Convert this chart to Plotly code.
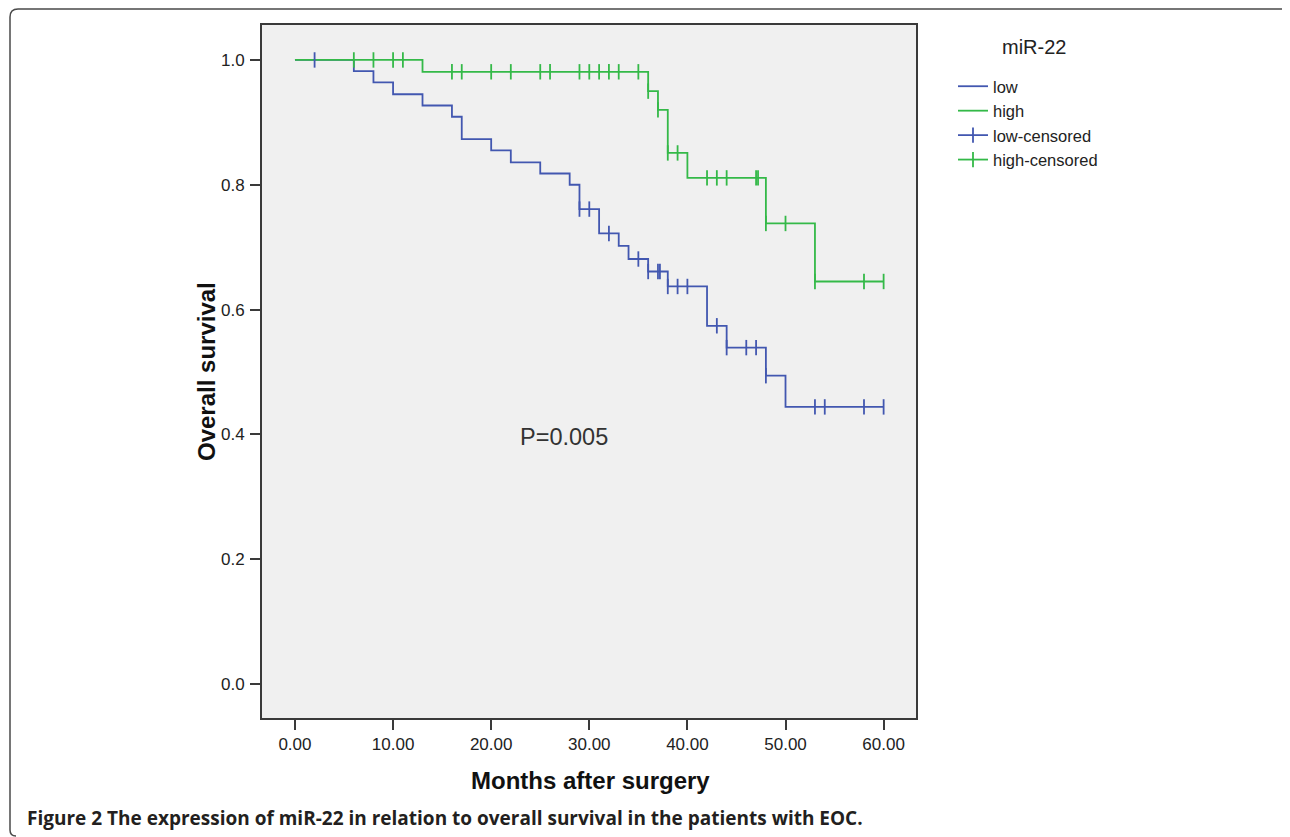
import plotly.graph_objects as go

# ---- data ----
low_time = [0, 6, 8, 10, 13, 16, 17, 20, 22, 25, 28, 29, 31, 33, 34, 36, 38, 42, 44, 48, 50, 60]
low_surv = [1.0, 0.982, 0.964, 0.945, 0.927, 0.909, 0.873, 0.855, 0.836, 0.818, 0.800, 0.761,
            0.722, 0.702, 0.681, 0.661, 0.637, 0.574, 0.539, 0.494, 0.444, 0.444]
low_cens_time = [2, 29, 30, 32, 35, 36, 37, 37.2, 38, 39, 40, 43, 44, 46, 47, 48, 53, 54, 58, 60]

high_time = [0, 13, 36, 37, 38, 40, 48, 53, 60]
high_surv = [1.0, 0.981, 0.950, 0.920, 0.851, 0.811, 0.738, 0.645, 0.645]
high_cens_time = [6, 8, 10, 11, 16, 17, 20, 22, 25, 26, 29, 30, 31, 32, 33, 35, 36, 37, 38, 39,
                  42, 43, 44, 47, 47.2, 48, 50, 53, 58, 60]

x_tickvals = [0, 10, 20, 30, 40, 50, 60]
x_ticktext = ["0.00", "10.00", "20.00", "30.00", "40.00", "50.00", "60.00"]
y_tickvals = [0.0, 0.2, 0.4, 0.6, 0.8, 1.0]
y_ticktext = ["0.0", "0.2", "0.4", "0.6", "0.8", "1.0"]

series_names = ["low", "high", "low-censored", "high-censored"]
p_text = "P=0.005"
legend_title = "miR-22"
caption = "Figure 2 The expression of miR-22 in relation to overall survival in the patients with EOC."

BLUE = "#4257b0"
GREEN = "#34b948"
FONT = "Liberation Sans, Arial"
LW = 1.8


def step_value(times, surv, t):
    val = surv[0]
    for tt, s in zip(times, surv):
        if tt <= t:
            val = s
    return val


low_cens_y = [step_value(low_time, low_surv, t) for t in low_cens_time]
high_cens_y = [step_value(high_time, high_surv, t) for t in high_cens_time]


def cens_marker(c):
    return dict(symbol="line-ns-open", size=11, color=c, line=dict(color=c, width=LW))


fig = go.Figure()
fig.add_trace(go.Scatter(x=low_time, y=low_surv, mode="lines", line=dict(color=BLUE, width=LW, shape="hv"),
                         name=series_names[0]))
fig.add_trace(go.Scatter(x=high_time, y=high_surv, mode="lines", line=dict(color=GREEN, width=LW, shape="hv"),
                         name=series_names[1]))
fig.add_trace(go.Scatter(x=low_cens_time, y=low_cens_y, mode="markers", marker=cens_marker(BLUE),
                         name=series_names[2], showlegend=False, legendgroup="lc"))
fig.add_trace(go.Scatter(x=high_cens_time, y=high_cens_y, mode="markers", marker=cens_marker(GREEN),
                         name=series_names[3], showlegend=False, legendgroup="hc"))
# legend entries for censored marks (line with tick)
fig.add_trace(go.Scatter(x=[None], y=[None], mode="lines+markers", line=dict(color=BLUE, width=LW),
                         marker=cens_marker(BLUE), name=series_names[2], legendgroup="lc"))
fig.add_trace(go.Scatter(x=[None], y=[None], mode="lines+markers", line=dict(color=GREEN, width=LW),
                         marker=cens_marker(GREEN), name=series_names[3], legendgroup="hc"))

# reference-pixel geometry (page body adds an 8px offset)
OFF = 8
L, R, T, B = 262, 916, 25, 718
W, H = 1290 - OFF, 837 - OFF
pw, ph = R - L, B - T


def px(xp):
    return (xp - L) / pw


def py(yp):
    return (B - yp) / ph


axis_common = dict(showgrid=False, zeroline=False, showline=True, linecolor="#3a3a3a", linewidth=2,
                   mirror=True, ticks="outside", ticklen=10, tickwidth=2, tickcolor="#3a3a3a",
                   tickfont=dict(family=FONT, size=17, color="#222"))

fig.update_xaxes(range=[-3.36, 63.3], tickvals=x_tickvals, ticktext=x_ticktext, **axis_common)
fig.update_yaxes(range=[-0.0545, 1.056], tickvals=y_tickvals, ticktext=y_ticktext, ticklabelstandoff=2,
                 **axis_common)

# outer frame (top and left edges with rounded corners; the rest is cut by the image edge)
x0, y0, x1, y1, r = 10, 9, 1290, 837, 8
path = (f"M {px(x0 + 6)} {py(y1 - 1)} Q {px(x0)} {py(y1 - 1)} {px(x0)} {py(y1 - 7)} "
        f"L {px(x0)} {py(y0 + r)} Q {px(x0)} {py(y0)} {px(x0 + r)} {py(y0)} "
        f"L {px(x1 - 5)} {py(y0)} Q {px(x1 - 1)} {py(y0)} {px(x1 - 1)} {py(y0 + 4)}")

fig.update_layout(
    width=W, height=H,
    margin=dict(l=L - OFF, r=W - (R - OFF), t=T - OFF, b=H - (B - OFF), pad=0),
    paper_bgcolor="white", plot_bgcolor="#f0f0f0",
    font=dict(family=FONT, color="#222"),
    shapes=[dict(type="path", xref="paper", yref="paper", path=path,
                 line=dict(color="#4a4a4a", width=1.5), layer="below")],
    legend=dict(x=px(953), y=py(69), xanchor="left", yanchor="top", bgcolor="rgba(0,0,0,0)",
                font=dict(family=FONT, size=16.5, color="#222"),
                itemwidth=30, tracegroupgap=0),
    annotations=[
        dict(text=p_text, x=27.4, y=0.396, xref="x", yref="y", showarrow=False,
             xanchor="center", yanchor="middle",
             font=dict(family=FONT, size=23.5, color="#333")),
        dict(text="<b>Months after surgery</b>", x=px(590), y=py(780), xref="paper", yref="paper",
             showarrow=False, xanchor="center", yanchor="middle",
             font=dict(family=FONT, size=24, color="#111")),
        dict(text="<b>Overall survival</b>", x=px(207), y=py(372), xref="paper", yref="paper",
             showarrow=False, textangle=-90, xanchor="center", yanchor="middle",
             font=dict(family=FONT, size=24, color="#111")),
        dict(text=legend_title, x=px(1034), y=py(47), xref="paper", yref="paper", showarrow=False,
             xanchor="center", yanchor="middle",
             font=dict(family=FONT, size=20, color="#222")),
        dict(text="<b>" + caption + "</b>", x=px(25), y=py(818), xref="paper", yref="paper",
             xanchor="left", yanchor="middle", showarrow=False,
             font=dict(family="Open Sans", size=19, color="#231f20")),
    ],
)

fig.write_html("out.html")
